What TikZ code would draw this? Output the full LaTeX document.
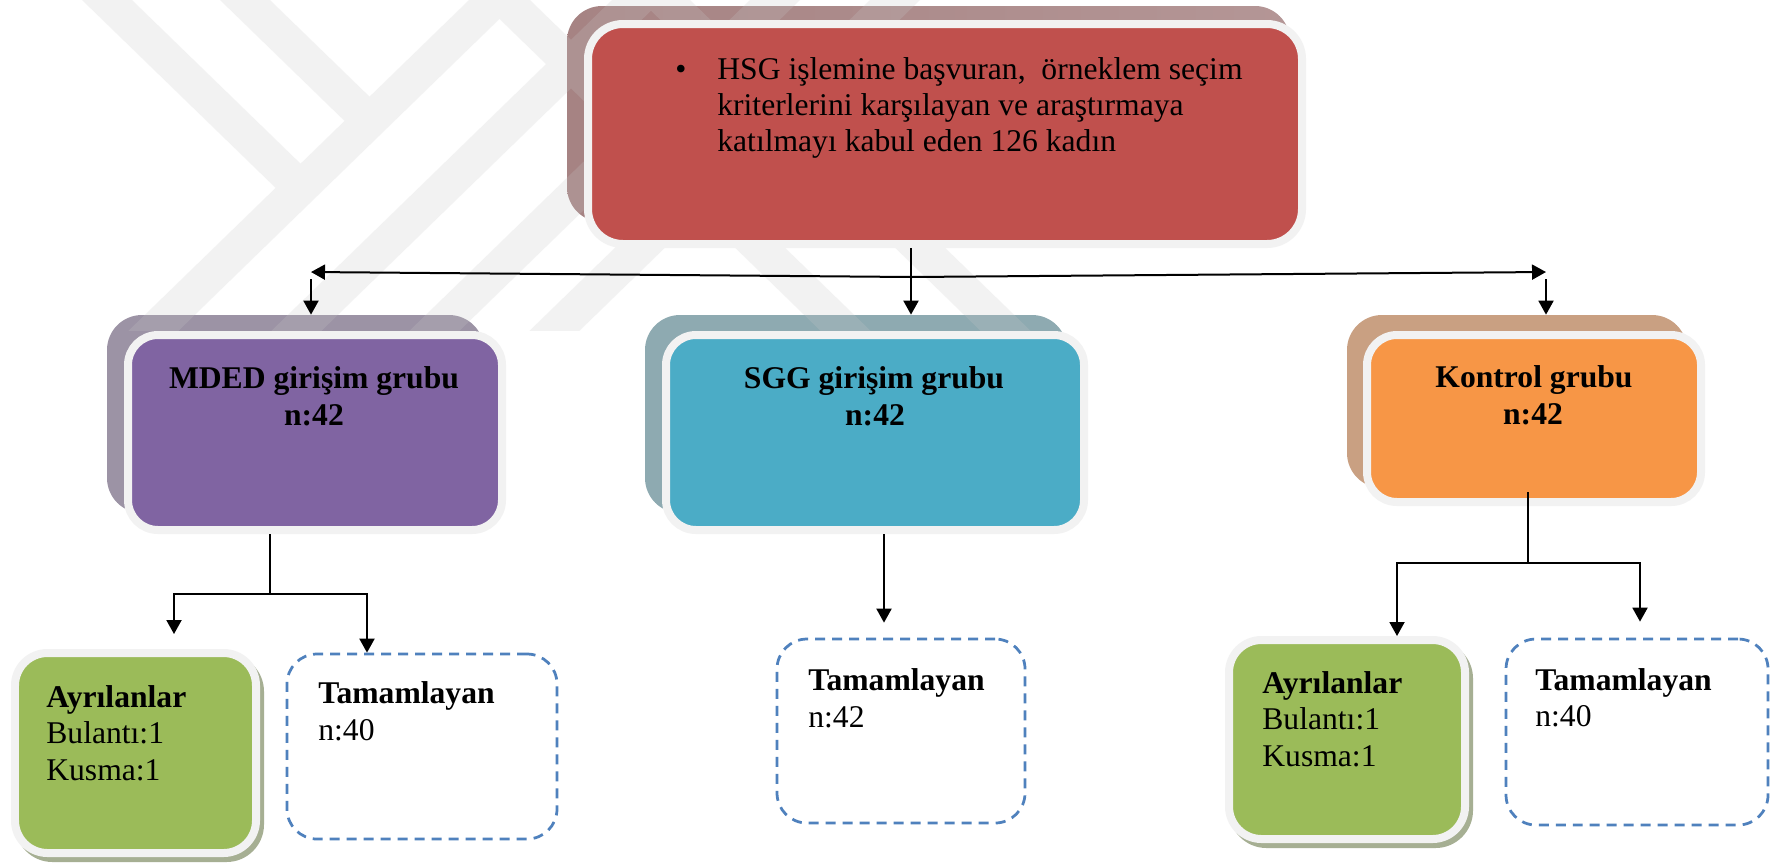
\documentclass[tikz,border=0pt]{standalone}
\usepackage{fontspec}
\setmainfont{Liberation Serif}
\usetikzlibrary{arrows.meta}

\definecolor{redFill}{HTML}{C0504D}
\definecolor{purpleFill}{HTML}{8064A2}
\definecolor{tealFill}{HTML}{4BACC6}
\definecolor{orangeFill}{HTML}{F79646}
\definecolor{greenFill}{HTML}{9BBB59}
\definecolor{dashBlue}{HTML}{4F81BD}
\definecolor{borderGray}{HTML}{F2F2F2}
\definecolor{redShL}{RGB}{166,131,131}
\definecolor{redShR}{RGB}{180,150,150}
\definecolor{purpleSh}{RGB}{156,147,165}
\definecolor{tealSh}{RGB}{142,170,177}
\definecolor{orangeSh}{RGB}{201,160,130}
\definecolor{greenSh}{RGB}{166,175,147}
\definecolor{wmGray}{RGB}{200,200,200}

\begin{document}
\begin{tikzpicture}[x=0.02cm, y=-0.02cm,
  sz/.style 2 args={minimum width=#1*0.02cm, minimum height=#2*0.02cm},
  shadowbox/.style={inner sep=0, draw=none, rounded corners=0.7cm},
  mainbox/.style={inner sep=0, draw=borderGray, line width=0.16cm, rounded corners=0.6cm},
  dashbox/.style={inner sep=0, draw=dashBlue, line width=0.055cm,
                  dash pattern=on 0.2cm off 0.14cm, rounded corners=0.6cm},
  txt/.style={inner sep=0, font=\fontsize{18}{21}\selectfont},
  btxt/.style={inner sep=0, font=\fontsize{18}{21}\selectfont\bfseries},
  conn/.style={line width=0.04cm, draw=black},
  arr/.style={conn, -{Triangle[length=0.28cm,width=0.3cm]}},
  wm/.style={fill=wmGray, fill opacity=0.22}
]
% page
\fill[white] (0,0) rectangle (1773,863);
\useasboundingbox (0,0) rectangle (1773,863);

% shadows behind the boxes
\node[shadowbox, sz={723}{216}, left color=redShL, right color=redShR] (hsgSh) at (928.5,114) {};
\node[shadowbox, sz={377}{198}, fill=purpleSh] (mdedSh) at (295.5,414) {};
\node[shadowbox, sz={422}{198}, fill=tealSh] (sggSh) at (856,414) {};
\node[shadowbox, sz={340}{173}, fill=orangeSh] (ktrSh) at (1517,401.5) {};
\node[shadowbox, sz={249}{208}, fill=greenSh, rounded corners=0.75cm] (ayrLSh) at (139.5,758) {};
\node[shadowbox, sz={244}{207}, fill=greenSh, rounded corners=0.75cm] (ayrRSh) at (1351,744.5) {};

% faint striped emblem in the background
\begin{scope}
  \clip (0,0) rectangle (1773,330);
  \fill[wm]
    (82,0) -- (132,0) -- (300.5,163.6) -- (275.6,187.9) -- cycle
    (220,0) -- (270,0) -- (369.5,96.6) -- (344.5,120.9) -- cycle
    (480,0) -- (530,0) -- (880,340) -- (830,340) -- cycle
    (640,0) -- (690,0) -- (1040,340) -- (990,340) -- cycle
    (469,0) -- (519,0) -- (169,340) -- (119,340) -- cycle
    (612,0) -- (662,0) -- (312,340) -- (262,340) -- cycle
    (750,0) -- (800,0) -- (450,340) -- (400,340) -- cycle
    (870,0) -- (920,0) -- (570,340) -- (520,340) -- cycle;
\end{scope}

% boxes
\node[mainbox, sz={714}{220}, fill=redFill, rounded corners=0.7cm] (hsg) at (945,134) {};
\node[mainbox, sz={374}{195}, fill=purpleFill] (mded) at (315,432.5) {};
\node[mainbox, sz={418}{195}, fill=tealFill] (sgg) at (875,432.5) {};
\node[mainbox, sz={334}{167}, fill=orangeFill] (ktr) at (1534,418.5) {};
\node[mainbox, sz={241}{200}, fill=greenFill, rounded corners=0.65cm] (ayrL) at (135.5,753) {};
\node[mainbox, sz={236}{199}, fill=greenFill, rounded corners=0.65cm] (ayrR) at (1347,739.5) {};
\node[dashbox, sz={270}{185}] (tamL) at (422,746.5) {};
\node[dashbox, sz={248}{184}] (tamM) at (901,731) {};
\node[dashbox, sz={262}{186}] (tamR) at (1637,732) {};

% texts
\node[txt, anchor=base west] (hsgB) at (675,79) {•};
\node[txt, anchor=base west] (hsgT1) at (717,79) {HSG işlemine başvuran,~ örneklem seçim};
\node[txt, anchor=base west] (hsgT2) at (717,115) {kriterlerini karşılayan ve araştırmaya};
\node[txt, anchor=base west] (hsgT3) at (717,151) {katılmayı kabul eden 126 kadın};

\node[btxt, anchor=base] (mdedT1) at (314,388) {MDED girişim grubu};
\node[btxt, anchor=base] (mdedT2) at (314,425) {n:42};
\node[btxt, anchor=base] (sggT1) at (874,388) {SGG girişim grubu};
\node[btxt, anchor=base] (sggT2) at (875,425) {n:42};
\node[btxt, anchor=base] (ktrT1) at (1534,387) {Kontrol grubu};
\node[btxt, anchor=base] (ktrT2) at (1533,424) {n:42};

\node[btxt, anchor=base west] (ayrLT1) at (46,707) {Ayrılanlar};
\node[txt, anchor=base west] (ayrLT2) at (46,743) {Bulantı:1};
\node[txt, anchor=base west] (ayrLT3) at (46,780) {Kusma:1};
\node[btxt, anchor=base west] (tamLT1) at (318,703) {Tamamlayan};
\node[txt, anchor=base west] (tamLT2) at (318,740) {n:40};

\node[btxt, anchor=base west] (tamMT1) at (808,690) {Tamamlayan};
\node[txt, anchor=base west] (tamMT2) at (808,727) {n:42};

\node[btxt, anchor=base west] (ayrRT1) at (1262,693) {Ayrılanlar};
\node[txt, anchor=base west] (ayrRT2) at (1262,729) {Bulantı:1};
\node[txt, anchor=base west] (ayrRT3) at (1262,766) {Kusma:1};
\node[btxt, anchor=base west] (tamRT1) at (1535,690) {Tamamlayan};
\node[txt, anchor=base west] (tamRT2) at (1535,726) {n:40};

% connectors: top distribution
\coordinate (jTop) at (911,277);
\coordinate (jL) at (311,272);
\coordinate (jR) at (1546,272);
\draw[arr] (hsg.south -| jTop) -- (jTop |- sggSh.north);
\draw[arr] (jTop) -- (jL);
\draw[arr] (jTop) -- (jR);
\draw[arr] ([yshift=-0.14cm]jL) -- (jL |- mdedSh.north);
\draw[arr] ([yshift=-0.14cm]jR) -- (jR |- ktrSh.north);

% connectors: MDED group
\coordinate (mJ) at (270,594);
\coordinate (mLx) at (174,594);
\coordinate (mRx) at (367,594);
\draw[conn] (mded.south -| mJ) -- (mJ);
\draw[arr, shorten >=0.3cm] (mJ) -- (mLx) -- (mLx |- ayrL.north);
\draw[arr] (mJ) -- (mRx) -- (mRx |- tamL.north);

% connectors: SGG group
\coordinate (sX) at (884,580);
\draw[arr, shorten >=0.3cm] (sgg.south -| sX) -- (sX |- tamM.north);

% connectors: control group
\coordinate (kJ) at (1528,563);
\coordinate (kLx) at (1397,563);
\coordinate (kRx) at (1640,563);
\draw[conn] ([yshift=0.28cm]ktr.south -| kJ) -- (kJ);
\draw[arr] (kJ) -- (kLx) -- (kLx |- ayrR.north);
\draw[arr, shorten >=0.32cm] (kJ) -- (kRx) -- (kRx |- tamR.north);
\end{tikzpicture}
\end{document}
